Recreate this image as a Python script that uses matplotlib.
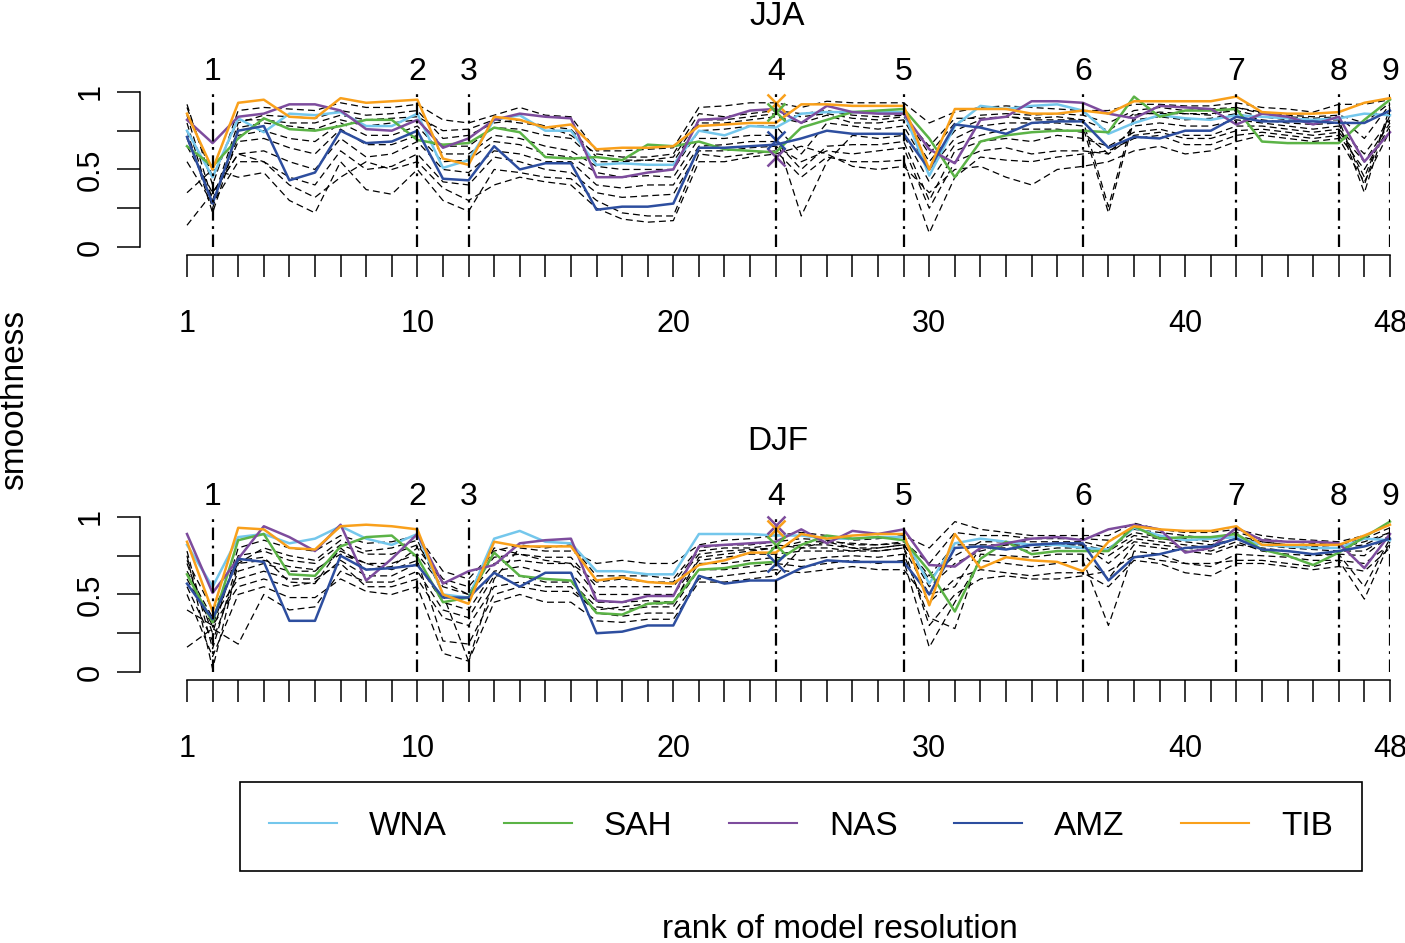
import numpy as np
import matplotlib
matplotlib.use("Agg")
import matplotlib.pyplot as plt

plt.rcParams["font.family"] = ["Liberation Sans", "DejaVu Sans"]
plt.rcParams["lines.scale_dashes"] = False

# Model rank on the x axis
ranks = np.arange(1, 49)

# Position of the resolution groups and their labels
group_pos = [2, 10, 12, 24, 29, 36, 42, 46, 48]
group_lab = ["1", "2", "3", "4", "5", "6", "7", "8", "9"]

regions = ["WNA", "SAH", "NAS", "AMZ", "TIB"]
colors = ["#74C7EC", "#5BB346", "#7D4C9D", "#2D4E9F", "#F9A01B"]

# ---- JJA, coloured regions ----
jja_wna = [0.75, 0.45, 0.83, 0.74, 0.86, 0.85, 0.87, 0.78, 0.78, 0.86, 0.51, 0.56, 0.82,
           0.85, 0.75, 0.75, 0.53, 0.54, 0.53, 0.53, 0.75, 0.72, 0.78, 0.77,
           0.86, 0.87, 0.87, 0.87, 0.87, 0.46, 0.78, 0.91, 0.89, 0.91, 0.92,
           0.88, 0.73, 0.80, 0.85, 0.83, 0.82, 0.85, 0.84, 0.83, 0.82, 0.83, 0.86, 0.85]
jja_sah = [0.65, 0.52, 0.70, 0.83, 0.76, 0.75, 0.78, 0.82, 0.82, 0.69, 0.66, 0.67, 0.77,
           0.74, 0.58, 0.57, 0.58, 0.56, 0.66, 0.65, 0.68, 0.63, 0.62, 0.61,
           0.77, 0.82, 0.87, 0.88, 0.89, 0.70, 0.45, 0.68, 0.72, 0.74, 0.75,
           0.75, 0.74, 0.97, 0.84, 0.88, 0.88, 0.89, 0.68, 0.67, 0.67, 0.67, 0.82, 0.95]
jja_nas = [0.82, 0.67, 0.84, 0.86, 0.92, 0.92, 0.88, 0.76, 0.75, 0.82, 0.64, 0.70, 0.82,
           0.86, 0.84, 0.83, 0.45, 0.45, 0.48, 0.50, 0.82, 0.83, 0.88, 0.89,
           0.80, 0.91, 0.87, 0.86, 0.86, 0.63, 0.54, 0.82, 0.84, 0.94, 0.94,
           0.93, 0.86, 0.83, 0.91, 0.90, 0.89, 0.79, 0.86, 0.84, 0.79, 0.84, 0.55, 0.74]
jja_amz = [0.71, 0.28, 0.75, 0.78, 0.43, 0.48, 0.75, 0.67, 0.68, 0.75, 0.44, 0.43, 0.65,
           0.50, 0.54, 0.54, 0.24, 0.26, 0.26, 0.28, 0.64, 0.64, 0.65, 0.66,
           0.70, 0.75, 0.73, 0.73, 0.73, 0.50, 0.79, 0.77, 0.73, 0.80, 0.81,
           0.81, 0.64, 0.71, 0.70, 0.75, 0.75, 0.84, 0.81, 0.81, 0.81, 0.80, 0.80, 0.88]
jja_tib = [0.86, 0.50, 0.93, 0.95, 0.84, 0.83, 0.96, 0.93, 0.94, 0.95, 0.57, 0.53, 0.84,
           0.82, 0.77, 0.79, 0.63, 0.64, 0.64, 0.65, 0.78, 0.79, 0.80, 0.80,
           0.92, 0.92, 0.91, 0.91, 0.91, 0.50, 0.89, 0.89, 0.89, 0.86, 0.86,
           0.88, 0.86, 0.94, 0.94, 0.94, 0.94, 0.97, 0.87, 0.86, 0.86, 0.87, 0.93, 0.96]

# ---- JJA, other models (dashed) ----
jja_other = [
    [0.92, 0.40, 0.88, 0.90, 0.89, 0.88, 0.93, 0.90, 0.90, 0.92, 0.82, 0.80, 0.85, 0.90, 0.85, 0.84,
     0.62, 0.62, 0.63, 0.64, 0.90, 0.91, 0.93, 0.93, 0.90, 0.94, 0.93, 0.93, 0.93, 0.80, 0.87, 0.90,
     0.91, 0.90, 0.89, 0.88, 0.88, 0.92, 0.92, 0.91, 0.91, 0.93, 0.90, 0.89, 0.87, 0.92, 0.92, 0.95],
    [0.85, 0.30, 0.80, 0.85, 0.84, 0.83, 0.88, 0.85, 0.86, 0.88, 0.70, 0.72, 0.80, 0.82, 0.78, 0.72,
     0.60, 0.58, 0.58, 0.60, 0.86, 0.84, 0.86, 0.88, 0.86, 0.88, 0.85, 0.84, 0.85, 0.60, 0.80, 0.85,
     0.86, 0.85, 0.86, 0.85, 0.80, 0.88, 0.90, 0.88, 0.89, 0.90, 0.87, 0.85, 0.84, 0.85, 0.80, 0.93],
    [0.80, 0.25, 0.77, 0.80, 0.78, 0.76, 0.82, 0.78, 0.80, 0.82, 0.65, 0.65, 0.77, 0.76, 0.72, 0.70,
     0.55, 0.55, 0.56, 0.55, 0.80, 0.80, 0.82, 0.84, 0.80, 0.85, 0.80, 0.80, 0.82, 0.55, 0.75, 0.82,
     0.84, 0.82, 0.82, 0.82, 0.26, 0.85, 0.87, 0.86, 0.86, 0.88, 0.84, 0.82, 0.82, 0.82, 0.40, 0.90],
    [0.75, 0.22, 0.72, 0.75, 0.70, 0.68, 0.80, 0.72, 0.72, 0.78, 0.60, 0.60, 0.72, 0.70, 0.65, 0.62,
     0.52, 0.50, 0.50, 0.50, 0.75, 0.76, 0.78, 0.78, 0.60, 0.80, 0.78, 0.76, 0.78, 0.50, 0.70, 0.78,
     0.80, 0.80, 0.80, 0.78, 0.22, 0.82, 0.84, 0.82, 0.83, 0.86, 0.82, 0.80, 0.79, 0.80, 0.35, 0.88],
    [0.70, 0.30, 0.68, 0.70, 0.64, 0.60, 0.76, 0.66, 0.66, 0.72, 0.55, 0.56, 0.68, 0.66, 0.60, 0.58,
     0.48, 0.45, 0.46, 0.45, 0.70, 0.70, 0.72, 0.72, 0.20, 0.55, 0.72, 0.70, 0.72, 0.42, 0.66, 0.72,
     0.76, 0.76, 0.76, 0.74, 0.60, 0.78, 0.80, 0.78, 0.78, 0.82, 0.80, 0.78, 0.76, 0.78, 0.45, 0.85],
    [0.65, 0.35, 0.60, 0.62, 0.55, 0.50, 0.70, 0.58, 0.60, 0.68, 0.50, 0.48, 0.62, 0.60, 0.55, 0.55,
     0.40, 0.38, 0.40, 0.40, 0.65, 0.66, 0.68, 0.68, 0.50, 0.65, 0.66, 0.66, 0.68, 0.30, 0.62, 0.68,
     0.70, 0.68, 0.72, 0.70, 0.65, 0.74, 0.76, 0.72, 0.72, 0.78, 0.78, 0.76, 0.74, 0.76, 0.60, 0.82],
    [0.55, 0.28, 0.55, 0.55, 0.45, 0.40, 0.62, 0.50, 0.52, 0.60, 0.42, 0.40, 0.58, 0.55, 0.50, 0.48,
     0.35, 0.32, 0.33, 0.34, 0.62, 0.62, 0.64, 0.65, 0.55, 0.62, 0.60, 0.62, 0.64, 0.25, 0.55, 0.62,
     0.64, 0.60, 0.62, 0.62, 0.60, 0.72, 0.74, 0.70, 0.70, 0.75, 0.76, 0.74, 0.72, 0.74, 0.55, 0.80],
    [0.35, 0.50, 0.45, 0.48, 0.30, 0.22, 0.55, 0.37, 0.34, 0.50, 0.30, 0.23, 0.50, 0.48, 0.45, 0.44,
     0.30, 0.22, 0.20, 0.20, 0.60, 0.58, 0.60, 0.62, 0.45, 0.58, 0.55, 0.55, 0.56, 0.09, 0.45, 0.58,
     0.56, 0.55, 0.58, 0.60, 0.62, 0.70, 0.72, 0.66, 0.66, 0.72, 0.74, 0.72, 0.70, 0.72, 0.50, 0.78],
    [0.14, 0.35, 0.60, 0.55, 0.40, 0.32, 0.45, 0.55, 0.50, 0.55, 0.38, 0.30, 0.40, 0.45, 0.42, 0.40,
     0.25, 0.18, 0.16, 0.17, 0.55, 0.55, 0.58, 0.60, 0.65, 0.60, 0.52, 0.50, 0.52, 0.35, 0.50, 0.52,
     0.45, 0.40, 0.50, 0.52, 0.55, 0.62, 0.65, 0.60, 0.62, 0.68, 0.72, 0.70, 0.68, 0.70, 0.42, 0.75],
    [0.90, 0.45, 0.82, 0.82, 0.80, 0.80, 0.85, 0.82, 0.83, 0.84, 0.75, 0.76, 0.82, 0.80, 0.78, 0.76,
     0.58, 0.56, 0.56, 0.58, 0.82, 0.82, 0.84, 0.86, 0.84, 0.86, 0.83, 0.82, 0.84, 0.65, 0.83, 0.83,
     0.84, 0.83, 0.84, 0.82, 0.75, 0.86, 0.86, 0.86, 0.85, 0.90, 0.86, 0.84, 0.83, 0.84, 0.70, 0.92],
]

# crosses at rank 24 (JJA)
jja_cross = {"TIB": 0.93, "SAH": 0.87, "NAS": 0.58, "AMZ": 0.69}

# ---- DJF, coloured regions ----
djf_wna = [0.82, 0.55, 0.87, 0.89, 0.83, 0.86, 0.94, 0.86, 0.82, 0.89, 0.50, 0.48, 0.86,
           0.91, 0.84, 0.83, 0.65, 0.65, 0.63, 0.63, 0.89, 0.89, 0.89, 0.88,
           0.88, 0.86, 0.86, 0.87, 0.87, 0.57, 0.83, 0.86, 0.84, 0.82, 0.82,
           0.80, 0.79, 0.93, 0.88, 0.85, 0.86, 0.87, 0.82, 0.81, 0.80, 0.80, 0.86, 0.85]
djf_sah = [0.63, 0.32, 0.85, 0.89, 0.63, 0.62, 0.81, 0.87, 0.88, 0.74, 0.45, 0.48, 0.77,
           0.62, 0.60, 0.59, 0.38, 0.37, 0.44, 0.45, 0.66, 0.67, 0.70, 0.71,
           0.82, 0.88, 0.86, 0.87, 0.85, 0.65, 0.39, 0.73, 0.84, 0.76, 0.78,
           0.78, 0.78, 0.94, 0.86, 0.87, 0.87, 0.89, 0.79, 0.75, 0.69, 0.77, 0.87, 0.97]
djf_nas = [0.89, 0.51, 0.73, 0.94, 0.87, 0.78, 0.95, 0.59, 0.73, 0.89, 0.57, 0.65, 0.69,
           0.83, 0.85, 0.86, 0.46, 0.45, 0.49, 0.49, 0.81, 0.82, 0.83, 0.84,
           0.92, 0.83, 0.91, 0.89, 0.92, 0.69, 0.68, 0.80, 0.83, 0.86, 0.87,
           0.85, 0.92, 0.95, 0.92, 0.77, 0.80, 0.93, 0.85, 0.84, 0.84, 0.83, 0.67, 0.89]
djf_amz = [0.57, 0.34, 0.73, 0.71, 0.33, 0.33, 0.75, 0.66, 0.67, 0.69, 0.48, 0.48, 0.64,
           0.55, 0.64, 0.64, 0.25, 0.26, 0.30, 0.30, 0.62, 0.57, 0.59, 0.59,
           0.67, 0.72, 0.71, 0.71, 0.71, 0.50, 0.80, 0.81, 0.79, 0.82, 0.83,
           0.83, 0.59, 0.74, 0.76, 0.80, 0.81, 0.86, 0.79, 0.78, 0.76, 0.78, 0.81, 0.86]
djf_tib = [0.84, 0.39, 0.93, 0.92, 0.80, 0.79, 0.94, 0.95, 0.94, 0.92, 0.50, 0.44, 0.84,
           0.81, 0.81, 0.81, 0.59, 0.61, 0.58, 0.57, 0.69, 0.72, 0.77, 0.77,
           0.89, 0.86, 0.88, 0.89, 0.89, 0.43, 0.89, 0.67, 0.74, 0.72, 0.71,
           0.65, 0.84, 0.94, 0.92, 0.91, 0.91, 0.94, 0.82, 0.82, 0.82, 0.82, 0.88, 0.95]

# ---- DJF, other models (dashed) ----
djf_other = [
    [0.75, 0.02, 0.70, 0.80, 0.75, 0.72, 0.85, 0.78, 0.80, 0.85, 0.50, 0.07, 0.60, 0.80, 0.78, 0.78,
     0.70, 0.72, 0.70, 0.70, 0.82, 0.85, 0.86, 0.88, 0.90, 0.88, 0.85, 0.86, 0.88, 0.80, 0.97, 0.92,
     0.90, 0.88, 0.88, 0.88, 0.88, 0.96, 0.92, 0.90, 0.90, 0.92, 0.88, 0.86, 0.85, 0.84, 0.88, 0.95],
    [0.70, 0.25, 0.80, 0.85, 0.80, 0.78, 0.88, 0.83, 0.84, 0.88, 0.65, 0.60, 0.78, 0.82, 0.80, 0.82,
     0.62, 0.62, 0.62, 0.60, 0.80, 0.82, 0.82, 0.84, 0.86, 0.85, 0.82, 0.82, 0.84, 0.70, 0.90, 0.88,
     0.88, 0.86, 0.86, 0.86, 0.85, 0.92, 0.90, 0.88, 0.86, 0.90, 0.86, 0.84, 0.83, 0.82, 0.86, 0.93],
    [0.60, 0.30, 0.75, 0.78, 0.72, 0.70, 0.82, 0.76, 0.76, 0.82, 0.60, 0.55, 0.74, 0.76, 0.74, 0.74,
     0.55, 0.55, 0.55, 0.55, 0.76, 0.78, 0.79, 0.80, 0.82, 0.82, 0.80, 0.80, 0.82, 0.60, 0.75, 0.84,
     0.84, 0.84, 0.84, 0.84, 0.80, 0.90, 0.87, 0.86, 0.84, 0.88, 0.84, 0.82, 0.81, 0.80, 0.82, 0.90],
    [0.55, 0.20, 0.65, 0.70, 0.65, 0.65, 0.78, 0.70, 0.70, 0.76, 0.55, 0.50, 0.70, 0.72, 0.70, 0.70,
     0.50, 0.50, 0.50, 0.50, 0.72, 0.74, 0.76, 0.76, 0.78, 0.78, 0.78, 0.78, 0.80, 0.50, 0.55, 0.80,
     0.80, 0.78, 0.80, 0.80, 0.75, 0.86, 0.84, 0.82, 0.80, 0.86, 0.82, 0.80, 0.79, 0.78, 0.78, 0.88],
    [0.40, 0.30, 0.55, 0.60, 0.55, 0.58, 0.72, 0.62, 0.62, 0.70, 0.45, 0.40, 0.65, 0.68, 0.64, 0.64,
     0.45, 0.45, 0.46, 0.45, 0.70, 0.70, 0.72, 0.74, 0.72, 0.74, 0.75, 0.74, 0.76, 0.35, 0.28, 0.76,
     0.75, 0.74, 0.76, 0.76, 0.60, 0.82, 0.80, 0.78, 0.76, 0.82, 0.80, 0.78, 0.76, 0.76, 0.55, 0.86],
    [0.16, 0.28, 0.18, 0.50, 0.40, 0.42, 0.65, 0.58, 0.58, 0.65, 0.40, 0.35, 0.62, 0.62, 0.58, 0.58,
     0.42, 0.40, 0.42, 0.42, 0.66, 0.66, 0.68, 0.70, 0.68, 0.70, 0.72, 0.70, 0.72, 0.16, 0.45, 0.72,
     0.70, 0.68, 0.70, 0.72, 0.30, 0.78, 0.76, 0.70, 0.68, 0.76, 0.75, 0.74, 0.72, 0.72, 0.47, 0.84],
    [0.65, 0.35, 0.60, 0.65, 0.60, 0.60, 0.70, 0.55, 0.55, 0.60, 0.35, 0.30, 0.55, 0.58, 0.55, 0.55,
     0.38, 0.36, 0.38, 0.38, 0.60, 0.62, 0.64, 0.66, 0.64, 0.66, 0.68, 0.66, 0.66, 0.45, 0.60, 0.66,
     0.64, 0.62, 0.64, 0.64, 0.55, 0.72, 0.70, 0.64, 0.62, 0.70, 0.70, 0.68, 0.66, 0.68, 0.65, 0.80],
    [0.50, 0.10, 0.50, 0.55, 0.48, 0.48, 0.60, 0.52, 0.50, 0.55, 0.12, 0.07, 0.45, 0.50, 0.45, 0.45,
     0.33, 0.32, 0.34, 0.34, 0.58, 0.58, 0.60, 0.62, 0.80, 0.84, 0.80, 0.78, 0.80, 0.30, 0.50, 0.60,
     0.62, 0.60, 0.60, 0.62, 0.65, 0.75, 0.72, 0.70, 0.70, 0.72, 0.72, 0.70, 0.68, 0.72, 0.70, 0.82],
    [0.72, 0.40, 0.70, 0.72, 0.68, 0.66, 0.76, 0.70, 0.66, 0.72, 0.20, 0.18, 0.50, 0.55, 0.52, 0.52,
     0.40, 0.42, 0.44, 0.44, 0.74, 0.76, 0.78, 0.80, 0.84, 0.84, 0.83, 0.82, 0.83, 0.55, 0.70, 0.78,
     0.82, 0.80, 0.82, 0.82, 0.70, 0.84, 0.82, 0.80, 0.78, 0.84, 0.78, 0.76, 0.75, 0.76, 0.75, 0.88],
    [0.78, 0.15, 0.72, 0.74, 0.58, 0.57, 0.80, 0.66, 0.68, 0.80, 0.58, 0.50, 0.80, 0.76, 0.72, 0.70,
     0.58, 0.60, 0.58, 0.58, 0.78, 0.80, 0.80, 0.82, 0.80, 0.80, 0.78, 0.80, 0.82, 0.62, 0.82, 0.82,
     0.82, 0.82, 0.82, 0.82, 0.78, 0.88, 0.86, 0.84, 0.82, 0.86, 0.84, 0.82, 0.80, 0.80, 0.84, 0.90],
]

# crosses at rank 24 (DJF)
djf_cross = {"NAS": 0.95, "TIB": 0.92, "SAH": 0.82, "AMZ": 0.70}
cross_rank = 24

panels = [
    ("JJA", [jja_wna, jja_sah, jja_nas, jja_amz, jja_tib], jja_other, jja_cross),
    ("DJF", [djf_wna, djf_sah, djf_nas, djf_amz, djf_tib], djf_other, djf_cross),
]

FS = 24
TICK_FS = 22

fig = plt.figure(figsize=(14.05, 9.43), dpi=100)
ax_top = fig.add_axes([0.1331, 0.7381, 0.8562, 0.1644])
ax_bot = fig.add_axes([0.1331, 0.2874, 0.8562, 0.1644])

for ax, (title, series, others, crosses) in zip([ax_top, ax_bot], panels):

    # other models as thin dashed black lines
    for vals in others:
        ax.plot(ranks, vals, color="black", lw=0.9, dashes=(5, 3), clip_on=False)

    # highlighted regions
    for name, vals, col in zip(regions, series, colors):
        ax.plot(ranks, vals, color=col, lw=1.8, clip_on=False, label=name)

    # crosses at rank 24
    for name, val in crosses.items():
        col = colors[regions.index(name)]
        ax.plot(cross_rank, val, marker="x", ms=13, mew=1.8, color=col,
                linestyle="none", clip_on=False)

    # group separators
    for pos, lab in zip(group_pos, group_lab):
        ax.axvline(pos, color="black", lw=1.6, dashes=(9, 4, 2, 4))
        ax.text(pos, 1.13, lab, ha="center", va="center", fontsize=TICK_FS + 1)

    ax.set_xlim(1, 48)
    ax.set_ylim(0, 1)
    ax.set_title(title, fontsize=FS, pad=48, x=0.491)

    # R-style detached axes
    for side in ["top", "right"]:
        ax.spines[side].set_visible(False)
    ax.spines["left"].set_position(("outward", 33.8))
    ax.spines["bottom"].set_position(("outward", 5.8))
    ax.spines["left"].set_bounds(0, 1)
    ax.spines["bottom"].set_bounds(1, 48)
    ax.spines["left"].set_linewidth(1.1)
    ax.spines["bottom"].set_linewidth(1.1)

    ax.set_xticks(ranks)
    ax.set_xticklabels([str(r) if r in (1, 10, 20, 30, 40, 48) else "" for r in ranks])
    ax.set_yticks([0, 0.25, 0.5, 0.75, 1])
    ax.set_yticklabels(["0", "", "0.5", "", "1"], rotation=90, va="center")
    ax.tick_params(axis="x", length=15.8, width=1.1, pad=23, labelsize=TICK_FS)
    ax.tick_params(axis="y", length=16.5, width=1.1, pad=8, labelsize=TICK_FS)

handles, labels = ax_top.get_legend_handles_labels()
leg = fig.legend(handles, labels, loc="center", ncol=5, mode="expand",
                 bbox_to_anchor=(0.1708, 0.0774, 0.7986, 0.0933),
                 borderaxespad=0, fontsize=FS, handlelength=2.05,
                 handletextpad=0.95, borderpad=0.87, fancybox=False,
                 framealpha=1)
leg.get_frame().set_edgecolor("black")
leg.get_frame().set_linewidth(1.2)
for line in leg.get_lines():
    line.set_linewidth(1.5)

fig.text(0.0107, 0.5758, "smoothness", rotation=90, ha="center", va="center", fontsize=FS)
fig.text(0.5979, 0.0138, "rank of model resolution", ha="center", va="center", fontsize=FS)

fig.savefig("out.png", dpi=100)
